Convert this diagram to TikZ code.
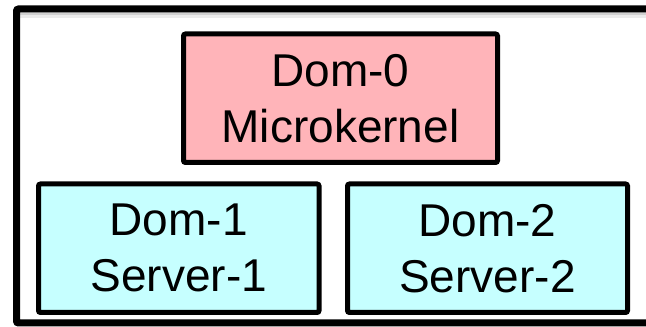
\documentclass[tikz,border=0pt]{standalone}
\usepackage{fontspec}
\setmainfont{Liberation Sans}
\definecolor{dompink}{RGB}{255,180,185}
\definecolor{domcyan}{RGB}{198,255,255}
\begin{document}
\begin{tikzpicture}[x=1pt,y=1pt,
  dombox/.style={draw=black, line width=5pt, rounded corners=2pt,
    minimum width=#1, minimum height=128.5pt, inner sep=0pt,
    align=center, font=\fontsize{46}{56}\selectfont},
  frame/.style={draw=black, line width=7pt, rounded corners=2pt}]
  \useasboundingbox (0,0) rectangle (646,327);
  \begin{scope}
    \clip (0,0) rectangle (646,327);
    % soft shadow under the top edge of the frame
    \draw[black!18, line width=4pt] (20,313) -- (660,313);
    \draw[black!8, line width=3pt] (20,310) -- (660,310);
    % outer frame, running off the right edge
    \draw[frame] (16.5,4) rectangle (680,318);
  \end{scope}
  \node[dombox=314pt, fill=dompink] (dom0) at (340.5,228.75) {Dom-0\\Microkernel};
  \node[dombox=280.5pt, fill=domcyan] (dom1) at (178.75,78.75) {Dom-1\\Server-1};
  \node[dombox=280pt, fill=domcyan] (dom2) at (487.5,78.75) {Dom-2\\Server-2};
\end{tikzpicture}
\end{document}
